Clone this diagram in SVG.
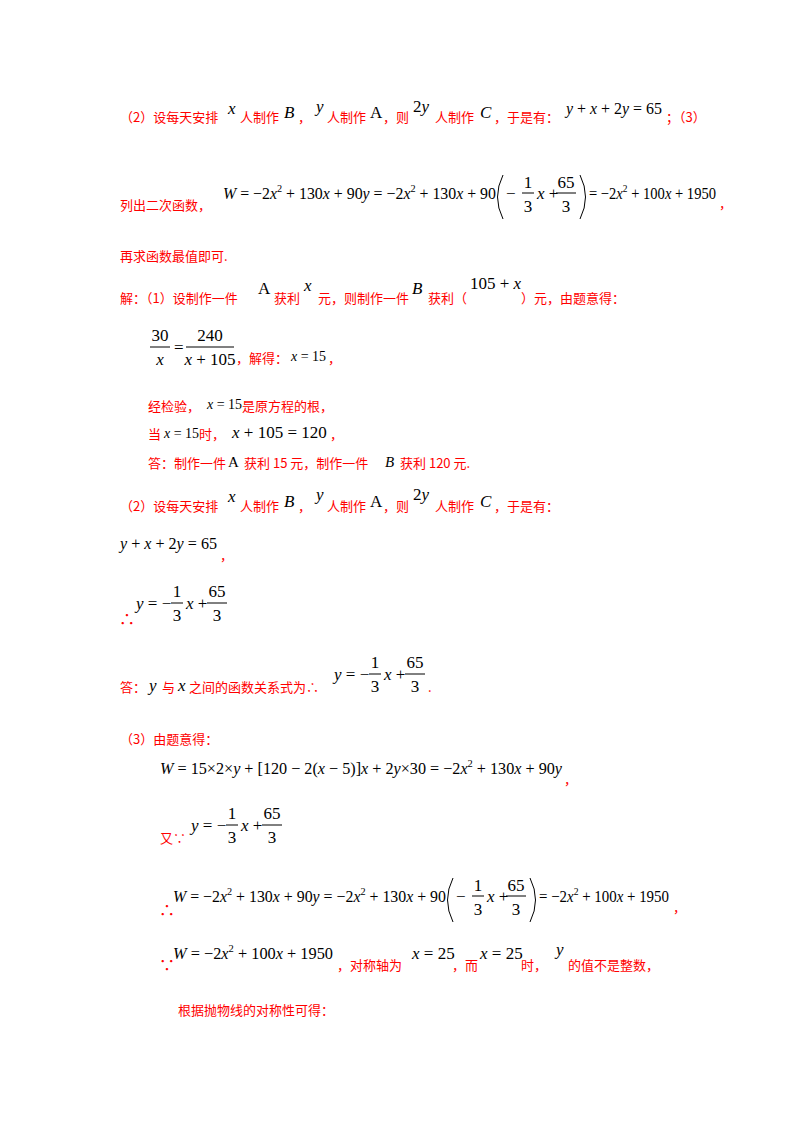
<svg xmlns="http://www.w3.org/2000/svg" width="800" height="1132" viewBox="0 0 800 1132">
<style>
.c{font-family:"Noto Sans CJK SC","Liberation Serif",serif;font-size:13px;fill:#ff0000}
.m{font-family:"Liberation Serif","Times New Roman","DejaVu Serif",serif;font-size:17px;fill:#000}
.i{font-style:italic}
.s{font-size:11px}
.b{stroke:#000;stroke-width:1;fill:none}
</style>
<rect width="800" height="1132" fill="#fff"/>
<g id="line1">
<text class="c" x="120" y="122">（2）设每天安排</text>
<text class="m i" x="228" y="114">x</text>
<text class="c" x="240" y="122">人制作</text>
<text class="m i" x="284" y="118">B</text>
<text class="c" x="298" y="122">，</text>
<text class="m i" x="316" y="112">y</text>
<text class="c" x="327" y="122">人制作</text>
<text class="m" x="370" y="118">A</text>
<text class="c" x="383" y="122">，则</text>
<text class="m" x="413" y="112">2<tspan class="i">y</tspan></text>
<text class="c" x="435" y="122">人制作</text>
<text class="m i" x="480" y="118">C</text>
<text class="c" x="494" y="122">，于是有：</text>
<text class="m" x="566" y="114" textLength="96" lengthAdjust="spacingAndGlyphs"><tspan class="i">y</tspan> + <tspan class="i">x</tspan> + 2<tspan class="i">y</tspan> = 65</text>
<text class="c" x="666" y="122">；（3）</text>
</g>
<g id="line2">
<text class="c" x="120" y="210">列出二次函数，</text>
<text class="m" x="223" y="199" textLength="273" lengthAdjust="spacingAndGlyphs"><tspan class="i">W</tspan> = −2<tspan class="i">x</tspan><tspan class="s" dy="-7">2</tspan><tspan dy="7"> + 130</tspan><tspan class="i">x</tspan> + 90<tspan class="i">y</tspan> = −2<tspan class="i">x</tspan><tspan class="s" dy="-7">2</tspan><tspan dy="7"> + 130</tspan><tspan class="i">x</tspan> + 90</text>
<path class="b" d="M503,175 Q492,197 503,219"/>
<text class="m" x="506" y="199">−</text>
<text class="m" x="528" y="188" text-anchor="middle">1</text>
<line class="b" x1="522" y1="193" x2="534" y2="193"/>
<text class="m" x="528" y="212" text-anchor="middle">3</text>
<text class="m" x="537" y="199"><tspan class="i">x</tspan> +</text>
<text class="m" x="566" y="188" text-anchor="middle">65</text>
<line class="b" x1="556" y1="193" x2="576" y2="193"/>
<text class="m" x="566" y="212" text-anchor="middle">3</text>
<path class="b" d="M580,175 Q591,197 580,219"/>
<text class="m" x="589" y="199" textLength="127" lengthAdjust="spacingAndGlyphs">= −2<tspan class="i">x</tspan><tspan class="s" dy="-7">2</tspan><tspan dy="7"> + 100</tspan><tspan class="i">x</tspan> + 1950</text>
<text class="c" x="719" y="208">，</text>
</g>
<g id="line3"><text class="c" x="120" y="261">再求函数最值即可.</text></g>
<g id="line4">
<text class="c" x="120" y="303">解：（1）设制作一件</text>
<text class="m" x="258" y="294">A</text>
<text class="c" x="274" y="303">获利</text>
<text class="m i" x="304" y="291">x</text>
<text class="c" x="318" y="303">元，则制作一件</text>
<text class="m i" x="412" y="294">B</text>
<text class="c" x="428" y="303">获利（</text>
<text class="m" x="470" y="289">105 + <tspan class="i">x</tspan></text>
<text class="c" x="521" y="303">）元，由题意得：</text>
</g>
<g id="line5">
<text class="m" x="160" y="341" text-anchor="middle">30</text>
<line class="b" x1="150" y1="347" x2="170" y2="347"/>
<text class="m i" x="160" y="365" text-anchor="middle">x</text>
<text class="m" x="174" y="353">=</text>
<text class="m" x="210" y="341" text-anchor="middle">240</text>
<line class="b" x1="186" y1="347" x2="234" y2="347"/>
<text class="m" x="210" y="365" text-anchor="middle"><tspan class="i">x</tspan> + 105</text>
<text class="c" x="236" y="363">，解得：</text>
<text class="m" x="291" y="361" style="font-size:14px"><tspan class="i">x</tspan> = 15</text>
<text class="c" x="328" y="363">，</text>
</g>
<g id="line6">
<text class="c" x="148" y="411">经检验，</text>
<text class="m" x="207" y="409" style="font-size:14px"><tspan class="i">x</tspan> = 15</text>
<text class="c" x="242" y="411">是原方程的根，</text>
</g>
<g id="line7">
<text class="c" x="148" y="439">当</text>
<text class="m" x="164" y="438" style="font-size:14px"><tspan class="i">x</tspan> = 15</text>
<text class="c" x="199" y="439">时，</text>
<text class="m" x="232" y="438"><tspan class="i">x</tspan> + 105 = 120</text>
<text class="c" x="330" y="439">，</text>
</g>
<g id="line8">
<text class="c" x="148" y="468">答：制作一件</text>
<text class="m" x="228" y="467" style="font-size:15px">A</text>
<text class="c" x="244" y="468">获利 15 元，制作一件</text>
<text class="m i" x="385" y="467" style="font-size:15px">B</text>
<text class="c" x="400" y="468">获利 120 元.</text>
</g>
<g id="line9">
<text class="c" x="120" y="511">（2）设每天安排</text>
<text class="m i" x="228" y="502">x</text>
<text class="c" x="240" y="511">人制作</text>
<text class="m i" x="284" y="507">B</text>
<text class="c" x="298" y="511">，</text>
<text class="m i" x="316" y="500">y</text>
<text class="c" x="327" y="511">人制作</text>
<text class="m" x="370" y="507">A</text>
<text class="c" x="383" y="511">，则</text>
<text class="m" x="413" y="500">2<tspan class="i">y</tspan></text>
<text class="c" x="435" y="511">人制作</text>
<text class="m i" x="480" y="507">C</text>
<text class="c" x="494" y="511">，于是有：</text>
</g>
<g id="line10">
<text class="m" x="120" y="549" textLength="97" lengthAdjust="spacingAndGlyphs"><tspan class="i">y</tspan> + <tspan class="i">x</tspan> + 2<tspan class="i">y</tspan> = 65</text>
<text class="c" x="220" y="560">，</text>
</g>
<g id="line11">
<text class="c" x="119" y="625" style="font-size:16px">∴</text>
<text class="m" x="136" y="609"><tspan class="i">y</tspan> = −</text>
<text class="m" x="177" y="597" text-anchor="middle">1</text>
<line class="b" x1="171" y1="603" x2="183" y2="603"/>
<text class="m" x="177" y="621" text-anchor="middle">3</text>
<text class="m" x="186" y="609"><tspan class="i">x</tspan> +</text>
<text class="m" x="217" y="597" text-anchor="middle">65</text>
<line class="b" x1="207" y1="603" x2="227" y2="603"/>
<text class="m" x="217" y="621" text-anchor="middle">3</text>
</g>
<g id="line12">
<text class="c" x="120" y="692">答：</text>
<text class="m i" x="149" y="691">y</text>
<text class="c" x="162" y="692">与</text>
<text class="m i" x="178" y="691">x</text>
<text class="c" x="189" y="692">之间的函数关系式为∴</text>
<text class="m" x="334" y="680"><tspan class="i">y</tspan> = −</text>
<text class="m" x="375" y="668" text-anchor="middle">1</text>
<line class="b" x1="369" y1="674" x2="381" y2="674"/>
<text class="m" x="375" y="692" text-anchor="middle">3</text>
<text class="m" x="384" y="680"><tspan class="i">x</tspan> +</text>
<text class="m" x="415" y="668" text-anchor="middle">65</text>
<line class="b" x1="405" y1="674" x2="425" y2="674"/>
<text class="m" x="415" y="692" text-anchor="middle">3</text>
<text class="c" x="428" y="692">.</text>
</g>
<g id="line13"><text class="c" x="120" y="744">（3）由题意得：</text></g>
<g id="line14">
<text class="m" x="160" y="774" textLength="402" lengthAdjust="spacingAndGlyphs"><tspan class="i">W</tspan> = 15×2×<tspan class="i">y</tspan> + [120 − 2(<tspan class="i">x</tspan> − 5)]<tspan class="i">x</tspan> + 2<tspan class="i">y</tspan>×30 = −2<tspan class="i">x</tspan><tspan class="s" dy="-7">2</tspan><tspan dy="7"> + 130</tspan><tspan class="i">x</tspan> + 90<tspan class="i">y</tspan></text>
<text class="c" x="564" y="784">，</text>
</g>
<g id="line15">
<text class="c" x="160" y="843">又∵</text>
<text class="m" x="191" y="831"><tspan class="i">y</tspan> = −</text>
<text class="m" x="232" y="819" text-anchor="middle">1</text>
<line class="b" x1="226" y1="825" x2="238" y2="825"/>
<text class="m" x="232" y="843" text-anchor="middle">3</text>
<text class="m" x="241" y="831"><tspan class="i">x</tspan> +</text>
<text class="m" x="272" y="819" text-anchor="middle">65</text>
<line class="b" x1="262" y1="825" x2="282" y2="825"/>
<text class="m" x="272" y="843" text-anchor="middle">3</text>
</g>
<g id="line16">
<text class="c" x="159" y="916" style="font-size:16px">∴</text>
<text class="m" x="173" y="902" textLength="273" lengthAdjust="spacingAndGlyphs"><tspan class="i">W</tspan> = −2<tspan class="i">x</tspan><tspan class="s" dy="-7">2</tspan><tspan dy="7"> + 130</tspan><tspan class="i">x</tspan> + 90<tspan class="i">y</tspan> = −2<tspan class="i">x</tspan><tspan class="s" dy="-7">2</tspan><tspan dy="7"> + 130</tspan><tspan class="i">x</tspan> + 90</text>
<path class="b" d="M453,878 Q442,900 453,922"/>
<text class="m" x="456" y="902">−</text>
<text class="m" x="478" y="891" text-anchor="middle">1</text>
<line class="b" x1="472" y1="896" x2="484" y2="896"/>
<text class="m" x="478" y="915" text-anchor="middle">3</text>
<text class="m" x="487" y="902"><tspan class="i">x</tspan> +</text>
<text class="m" x="516" y="891" text-anchor="middle">65</text>
<line class="b" x1="506" y1="896" x2="526" y2="896"/>
<text class="m" x="516" y="915" text-anchor="middle">3</text>
<path class="b" d="M530,878 Q541,900 530,922"/>
<text class="m" x="539" y="902" textLength="130" lengthAdjust="spacingAndGlyphs">= −2<tspan class="i">x</tspan><tspan class="s" dy="-7">2</tspan><tspan dy="7"> + 100</tspan><tspan class="i">x</tspan> + 1950</text>
<text class="c" x="673" y="912">，</text>
</g>
<g id="line17">
<text class="c" x="159" y="971" style="font-size:16px">∵</text>
<text class="m" x="173" y="959" textLength="160" lengthAdjust="spacingAndGlyphs"><tspan class="i">W</tspan> = −2<tspan class="i">x</tspan><tspan class="s" dy="-7">2</tspan><tspan dy="7"> + 100</tspan><tspan class="i">x</tspan> + 1950</text>
<text class="c" x="337" y="970">，对称轴为</text>
<text class="m" x="412" y="959"><tspan class="i">x</tspan> = 25</text>
<text class="c" x="452" y="970">，而</text>
<text class="m" x="480" y="959"><tspan class="i">x</tspan> = 25</text>
<text class="c" x="521" y="970">时，</text>
<text class="m i" x="556" y="955">y</text>
<text class="c" x="568" y="970">的值不是整数，</text>
</g>
<g id="line18"><text class="c" x="178" y="1015">根据抛物线的对称性可得：</text></g>
</svg>
